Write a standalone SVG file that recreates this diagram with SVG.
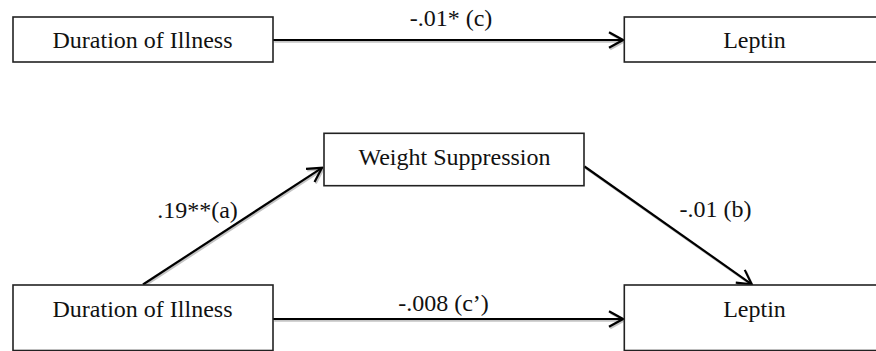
<svg xmlns="http://www.w3.org/2000/svg" width="876" height="351" viewBox="0 0 876 351">
  <defs>
    <marker id="head" viewBox="0 0 17 18" refX="15.5" refY="9" markerWidth="17" markerHeight="18" markerUnits="userSpaceOnUse" orient="auto">
      <path d="M1.5,1.2 L15.5,9 L1.5,16.8" fill="none" stroke="#000" stroke-width="2.2" stroke-linejoin="miter"/>
    </marker>
    <marker id="head-shadow" viewBox="0 0 17 18" refX="15.5" refY="9" markerWidth="17" markerHeight="18" markerUnits="userSpaceOnUse" orient="auto">
      <path d="M1.5,1.2 L15.5,9 L1.5,16.8" fill="none" stroke="#c4c4c4" stroke-width="2.2"/>
    </marker>
  </defs>
  <style>
    .box { fill: #fff; stroke: #222; stroke-width: 1.6; }
    .label { font-family: "Liberation Serif", "Times New Roman", serif; font-size: 24px; fill: #111; text-anchor: middle; }
    .edge { fill: none; stroke: #000; stroke-width: 2.2; marker-end: url(#head); }
    .edge-shadow { fill: none; stroke: #c4c4c4; stroke-width: 2.2; marker-end: url(#head-shadow); }
  </style>

  <rect width="876" height="351" fill="#fff"/>

  <!-- connectors: soft drop shadow first, then the arrows -->
  <g id="connectors">
    <g transform="translate(1.2,1.6)">
      <path class="edge-shadow" d="M273,40 L623,40"/>
      <path class="edge-shadow" d="M143,284.5 L322,167.8"/>
      <path class="edge-shadow" d="M584.5,166.5 L751.7,284.3"/>
      <path class="edge-shadow" d="M273,319 L623,319"/>
    </g>
    <path class="edge" d="M273,40 L623,40"/>
    <path class="edge" d="M143,284.5 L322,167.8"/>
    <path class="edge" d="M584.5,166.5 L751.7,284.3"/>
    <path class="edge" d="M273,319 L623,319"/>

    <text class="label" x="451" y="26">-.01* (c)</text>
    <text class="label" x="197.5" y="218">.19**(a)</text>
    <text class="label" x="715.5" y="217">-.01 (b)</text>
    <text class="label" x="443.5" y="311">-.008 (c’)</text>
  </g>

  <!-- total-effect model -->
  <g id="duration-top">
    <rect class="box" x="13" y="17" width="260" height="45"/>
    <text class="label" x="142.5" y="48">Duration of Illness</text>
  </g>
  <g id="leptin-top">
    <rect class="box" x="624.3" y="17" width="262" height="45"/>
    <text class="label" x="754.5" y="48">Leptin</text>
  </g>

  <!-- mediation model -->
  <g id="weight-suppression">
    <rect class="box" x="324" y="133.3" width="260" height="52.4"/>
    <text class="label" x="454.5" y="165">Weight Suppression</text>
  </g>
  <g id="duration-bottom">
    <rect class="box" x="13" y="285" width="260" height="65.5"/>
    <text class="label" x="142.5" y="316.5">Duration of Illness</text>
  </g>
  <g id="leptin-bottom">
    <rect class="box" x="624.3" y="285" width="262" height="65.5"/>
    <text class="label" x="754.5" y="316.5">Leptin</text>
  </g>
</svg>
